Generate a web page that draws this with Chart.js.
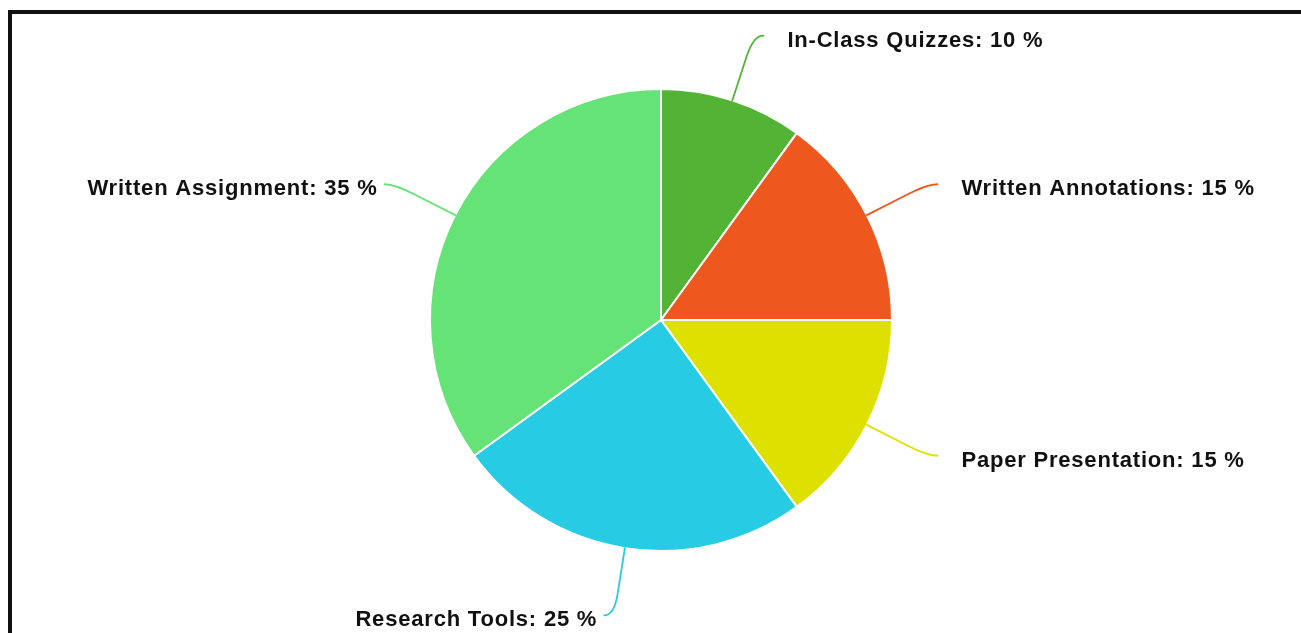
<!DOCTYPE html>
<html>
<head>
<meta charset="utf-8">
<script src="https://cdn.jsdelivr.net/npm/chart.js@4/dist/chart.umd.min.js"></script>
<style>
  html, body { margin: 0; padding: 0; background: #fff; }
  body { width: 1301px; height: 633px; position: relative; overflow: hidden; }
  #frame { position: absolute; left: 8px; top: 10px; right: 0; bottom: 0;
           border-top: 4px solid #111; border-left: 4px solid #111; }
  #wrap { position: absolute; left: 0; top: 0; width: 1301px; height: 633px; }
</style>
</head>
<body>
<div id="frame"></div>
<div id="wrap"><canvas id="c" width="1301" height="633"></canvas></div>
<script>
const categories = ["In-Class Quizzes", "Written Annotations", "Paper Presentation", "Research Tools", "Written Assignment"];
const values = [10, 15, 15, 25, 35];
const sliceColors = ["#52b334", "#ee581f", "#dee000", "#27cbe4", "#66e376"];

const labelPlugin = {
  id: 'calloutLabels',
  afterDatasetsDraw(chart) {
    const ctx = chart.ctx;
    const meta = chart.getDatasetMeta(0);
    ctx.save();
    ctx.font = 'bold 22px "Liberation Sans", Arial, sans-serif';
    ctx.letterSpacing = '0.8px';
    meta.data.forEach((arc, i) => {
      const p = arc.getProps(['x', 'y', 'startAngle', 'endAngle', 'outerRadius'], true);
      const mid = (p.startAngle + p.endAngle) / 2;
      const ux = Math.cos(mid), uy = Math.sin(mid);
      const dir = ux >= 0 ? 1 : -1;
      const ax = p.x + p.outerRadius * ux, ay = p.y + p.outerRadius * uy;
      const cx = ax + 68 * ux, cy = ay + 68 * uy;
      const sx = ax + 46 * ux, sy = ay + 46 * uy;
      const ex = cx + dir * 10, ey = cy;
      ctx.beginPath();
      ctx.strokeStyle = sliceColors[i];
      ctx.lineWidth = 1.8;
      ctx.lineCap = 'round';
      ctx.moveTo(ax, ay);
      ctx.lineTo(sx, sy);
      ctx.quadraticCurveTo(cx, cy, ex, ey);
      ctx.stroke();
      ctx.fillStyle = '#111';
      ctx.textBaseline = 'alphabetic';
      const text = categories[i] + ': ' + values[i] + ' %';
      if (dir > 0) {
        ctx.textAlign = 'left';
        ctx.fillText(text, ex + 24, ey + 11);
      } else {
        ctx.textAlign = 'right';
        ctx.fillText(text, ex - 7, ey + 11);
      }
    });
    ctx.restore();
  }
};

new Chart(document.getElementById('c'), {
  type: 'pie',
  data: {
    labels: categories,
    datasets: [{
      data: values,
      backgroundColor: sliceColors,
      borderColor: '#ffffff',
      borderWidth: 2
    }]
  },
  options: {
    responsive: false,
    animation: false,
    layout: { padding: { top: 88, bottom: 81, left: 300, right: 279 } },
    plugins: { legend: { display: false }, tooltip: { enabled: false } }
  },
  plugins: [labelPlugin]
});
</script>
</body>
</html>
